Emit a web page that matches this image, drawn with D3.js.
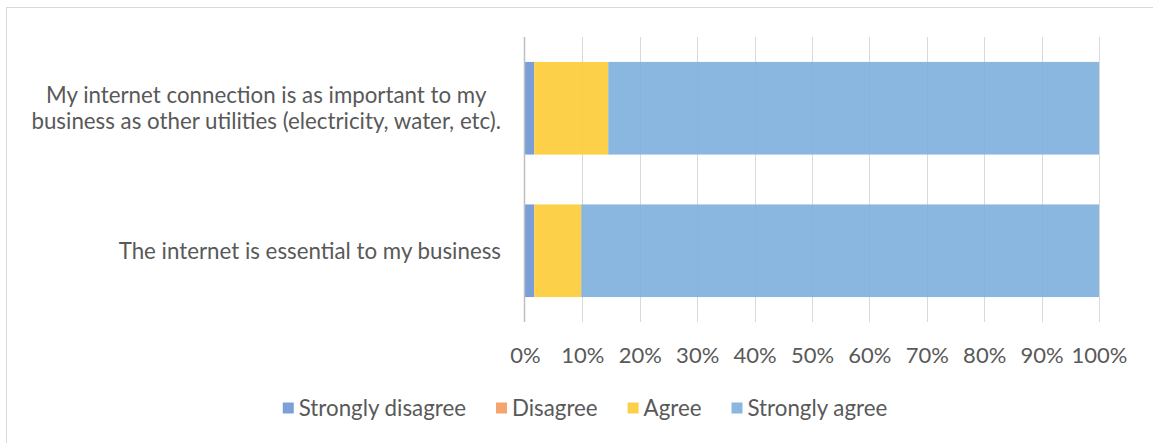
<!DOCTYPE html>
<html>
<head>
<meta charset="utf-8">
<script src="https://cdn.jsdelivr.net/npm/d3@7"></script>
<style>
  html, body { margin: 0; padding: 0; background: #fff; }
  svg { display: block; }
  text { font-family: Lato, "Open Sans", sans-serif; fill: #595959; }
</style>
</head>
<body>
<svg id="chart" width="1153" height="443"></svg>
<script>
// Survey statements (top to bottom) and response shares in percent
const categories = [
  ["My internet connection is as important to my", "business as other utilities (electricity, water, etc)."],
  ["The internet is essential to my business"]
];
const categoryKeys = ["utilities", "essential"];
const seriesNames = ["Strongly disagree", "Disagree", "Agree", "Strongly agree"];
const stronglyDisagree = [1.6, 1.6];
const disagree = [0, 0];
const agree = [12.9, 8.2];
const stronglyAgree = [85.5, 90.2];
const tickValues = [0, 10, 20, 30, 40, 50, 60, 70, 80, 90, 100];
const tickLabels = ["0%", "10%", "20%", "30%", "40%", "50%", "60%", "70%", "80%", "90%", "100%"];

const seriesValues = [stronglyDisagree, disagree, agree, stronglyAgree];
const barColors = ["#6c94d4", "#f4a46c", "#fdcb36", "#7dafdd"];
const swatchColors = ["#7b9fd8", "#f4a46c", "#fdd04a", "#8ab7e0"];
const fontSize = "22.3px";

const svg = d3.select("#chart");

// Outer chart frame
svg.append("rect")
  .attr("x", 6.5).attr("y", 7.5)
  .attr("width", 1160).attr("height", 450)
  .attr("fill", "none").attr("stroke", "#d9d9d9").attr("stroke-width", 1);

const plot = { left: 525, right: 1099, top: 37, bottom: 322 };

const x = d3.scaleLinear().domain([0, 100]).range([plot.left, plot.right]);
const y = d3.scaleBand().domain(categoryKeys)
  .range([plot.top, plot.bottom]).paddingInner(0.35).paddingOuter(0.175);

// Vertical gridlines
svg.append("g")
  .selectAll("line")
  .data(tickValues.slice(1))
  .join("line")
  .attr("x1", d => Math.round(x(d)) + 0.5).attr("x2", d => Math.round(x(d)) + 0.5)
  .attr("y1", plot.top).attr("y2", plot.bottom)
  .attr("stroke", "#d9d9d9").attr("stroke-width", 1);

// Stacked bars
const rows = categoryKeys.map((k, i) => {
  const row = { key: k };
  seriesNames.forEach((s, j) => { row[s] = seriesValues[j][i]; });
  return row;
});
const stacked = d3.stack().keys(seriesNames)(rows);

svg.append("g")
  .selectAll("g")
  .data(stacked)
  .join("g")
  .attr("fill", (d, i) => barColors[i])
  .attr("fill-opacity", 0.9)
  .selectAll("rect")
  .data(d => d)
  .join("rect")
  .attr("x", d => x(d[0]))
  .attr("width", d => Math.max(0, x(d[1]) - x(d[0])))
  .attr("y", d => y(d.data.key))
  .attr("height", y.bandwidth());

// Vertical category axis line
svg.append("line")
  .attr("x1", plot.left - 0.5).attr("x2", plot.left - 0.5)
  .attr("y1", plot.top).attr("y2", plot.bottom)
  .attr("stroke", "#bfbfbf").attr("stroke-width", 1.5);

// Percent axis labels
const xAxis = d3.axisBottom(x)
  .tickValues(tickValues)
  .tickFormat((d, i) => tickLabels[i])
  .tickSize(0).tickPadding(0);
const xg = svg.append("g").attr("transform", `translate(0, ${plot.bottom + 25})`).call(xAxis);
xg.select(".domain").remove();
xg.selectAll("text").style("font-size", "22px").attr("fill", "#595959")
  .style("font-family", "Lato, 'Open Sans', sans-serif");

// Category labels, wrapped lines centred on one another, right-aligned block
const labelRight = 501;
const lineGap = 26;
const catG = svg.append("g").style("font-size", fontSize);
categoryKeys.forEach((k, i) => {
  const lines = categories[i];
  const cy = y(k) + y.bandwidth() / 2;
  const t = catG.append("text").attr("text-anchor", "middle");
  const spans = lines.map((ln, j) => t.append("tspan")
    .attr("y", cy + (j - (lines.length - 1) / 2) * lineGap)
    .attr("dy", "0.35em")
    .text(ln));
  const maxW = d3.max(spans, s => s.node().getComputedTextLength());
  spans.forEach(s => s.attr("x", labelRight - maxW / 2));
});

// Legend, centred below the axis
const legendY = 408;
const legend = svg.append("g").style("font-size", fontSize);
const items = seriesNames.map((name, i) => {
  const g = legend.append("g");
  g.append("rect").attr("width", 11).attr("height", 11).attr("y", -5.5)
    .attr("fill", swatchColors[i]);
  const t = g.append("text").attr("x", 16).attr("dy", "0.35em").text(name);
  return { g, w: 16 + t.node().getComputedTextLength() };
});
const gap = 30;
const total = d3.sum(items, d => d.w) + gap * (items.length - 1);
let cx = 585 - total / 2;
items.forEach(it => {
  it.g.attr("transform", `translate(${cx}, ${legendY})`);
  cx += it.w + gap;
});
</script>
</body>
</html>
